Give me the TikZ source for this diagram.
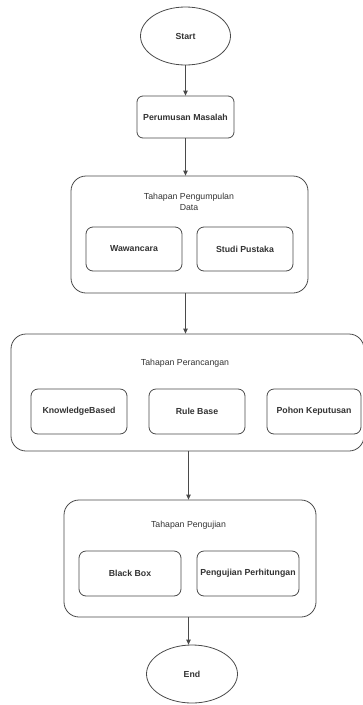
\documentclass[tikz,border=0pt]{standalone}
\usepackage{fontspec}
\setmainfont{Liberation Sans}
\usetikzlibrary{shapes.geometric,arrows.meta}
\definecolor{linec}{HTML}{4A4A4A}
\definecolor{textc}{HTML}{333333}
\tikzset{
  base/.style={draw=linec, line width=0.8pt, text=textc, font=\fontsize{8.75}{10.5}\selectfont, inner sep=1pt, align=center},
  term/.style={base, ellipse, minimum width=#1, minimum height=58pt, font=\fontsize{8.75}{10.5}\selectfont\bfseries},
  inbox/.style={base, rectangle, rounded corners=7pt, font=\fontsize{8.75}{10.5}\selectfont\bfseries},
  outbox/.style={base, rectangle, rounded corners=15pt, minimum height=117pt},
  title/.style={text=textc, font=\fontsize{8.75}{11}\selectfont, align=center, inner sep=0pt},
  arr/.style={draw=linec, line width=0.8pt, -{Triangle[length=5pt,width=4.5pt]}}
}
\begin{document}
\begin{tikzpicture}[x=1pt,y=-1pt]
\useasboundingbox (0,0) rectangle (362,705);
\fill[white] (0,0) rectangle (362,705);

\node[term=90pt] (start) at (185.5,36) {Start};
\node[inbox, minimum width=97pt, minimum height=42pt, rounded corners=6pt] (pm) at (185.5,117) {Perumusan Masalah};

\node[outbox, minimum width=237pt] (g1) at (189.5,234.5) {};
\node[title] (g1t) at (189,202) {Tahapan Pengumpulan\\Data};
\node[inbox, minimum width=96pt, minimum height=44pt] (wa) at (134,249) {Wawancara};
\node[inbox, minimum width=96pt, minimum height=44pt] (sp) at (245,249) {Studi Pustaka};

\node[outbox, minimum width=353pt] (g2) at (187.5,392.5) {};
\node[title] (g2t) at (185,363) {Tahapan Perancangan};
\node[inbox, minimum width=96pt, minimum height=45pt] (kb) at (79,411.5) {KnowledgeBased};
\node[inbox, minimum width=96pt, minimum height=45pt] (rb) at (197,411.5) {Rule Base};
\node[inbox, minimum width=94pt, minimum height=45pt] (pk) at (314,411.5) {Pohon Keputusan};

\node[outbox, minimum width=252pt] (g3) at (190,558.5) {};
\node[title] (g3t) at (188.5,525) {Tahapan Pengujian};
\node[inbox, minimum width=102pt, minimum height=45pt] (bb) at (130,573.5) {Black Box};
\node[inbox, minimum width=102pt, minimum height=45pt] (pp) at (248,573.5) {Pengujian Perhitungan};

\node[term=91pt] (end) at (192,674) {End};

\draw[arr] (start) -- (pm);
\draw[arr] (pm.south) -- (pm.south |- g1.north);
\draw[arr] (g1.south -| pm) -- (pm |- g2.north);
\draw[arr] (g2.south -| g3t) -- (g3t |- g3.north);
\draw[arr] (g3.south -| g3t) -- (g3t |- end.north);
\end{tikzpicture}
\end{document}
